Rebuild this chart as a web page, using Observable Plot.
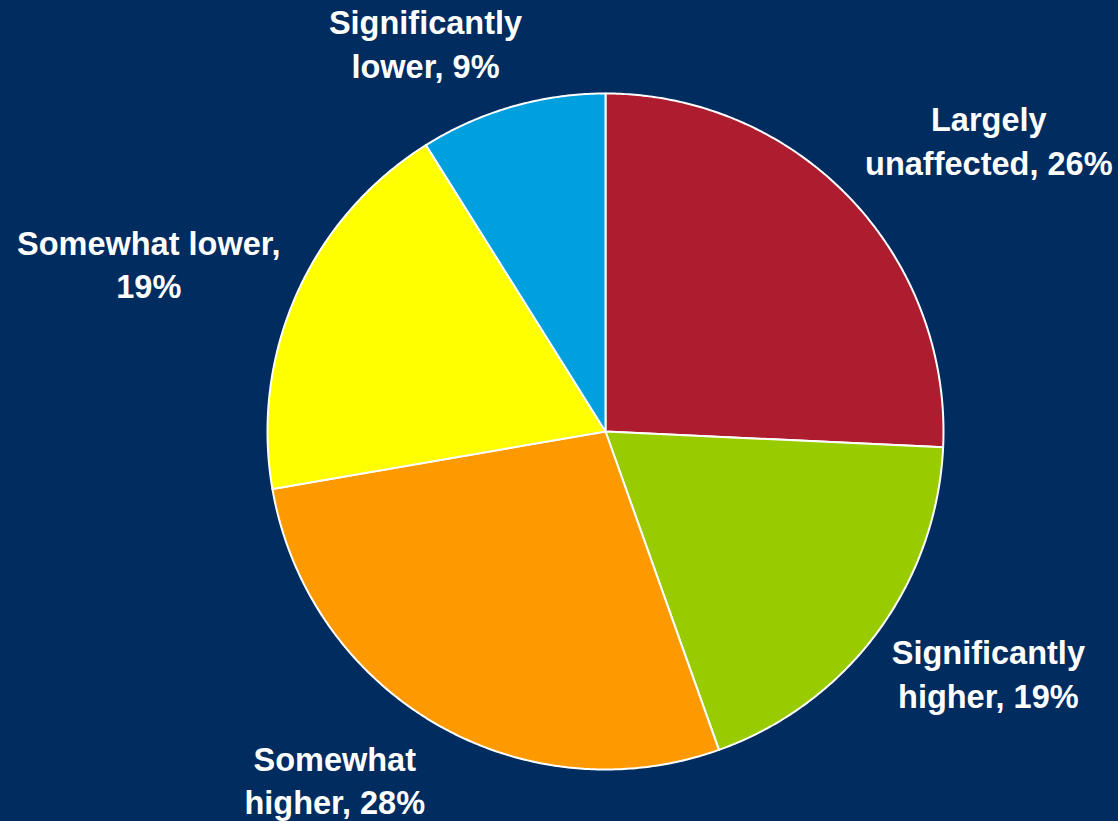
<!DOCTYPE html>
<html>
<head>
<meta charset="utf-8">
<script src="https://cdn.jsdelivr.net/npm/d3@7"></script>
<script src="https://cdn.jsdelivr.net/npm/@observablehq/plot@0.6"></script>
<style>
  html, body { margin: 0; padding: 0; background: #002C5F; }
  #chart { width: 1118px; height: 821px; overflow: hidden; }
</style>
</head>
<body>
<div id="chart"></div>
<script>
// ---- data ----
const categories = ["Largely unaffected", "Significantly higher", "Somewhat higher", "Somewhat lower", "Significantly lower"];
const labelText = ["Largely\nunaffected, 26%", "Significantly\nhigher, 19%", "Somewhat\nhigher, 28%", "Somewhat lower,\n19%", "Significantly\nlower, 9%"];
const values = [26, 19, 28, 19, 9];
const colors = ["#AE1C2F", "#99CC00", "#FF9900", "#FFFF00", "#00A0DE"];

// ---- layout (label placement: angle in degrees clockwise from top, distance in radii) ----
const labelAngle = [53, 122.5, 217.7, 289.9, 335];
const labelDist = [1.42, 1.343, 1.31, 1.437, 1.26];

const W = 1118, H = 821, cx = 605, cy = 431, R = 338;

const pie = d3.pie().sort(null).value(d => d)(values);
const slices = [];
pie.forEach((p, i) => {
  const steps = Math.max(2, Math.ceil((p.endAngle - p.startAngle) / (Math.PI / 360)));
  slices.push({cat: categories[i], x: 0, y: 0});
  for (let k = 0; k <= steps; k++) {
    const a = p.startAngle + (p.endAngle - p.startAngle) * k / steps;
    slices.push({cat: categories[i], x: Math.sin(a), y: Math.cos(a)});
  }
  slices.push({cat: categories[i], x: 0, y: 0});
});

const labels = labelText.map((t, i) => {
  const a = labelAngle[i] * Math.PI / 180;
  return {text: t, x: labelDist[i] * Math.sin(a), y: labelDist[i] * Math.cos(a)};
});

const chart = Plot.plot({
  width: W,
  height: H,
  margin: 0,
  style: {background: "#002C5F", overflow: "visible"},
  x: {domain: [-cx / R, (W - cx) / R], axis: null},
  y: {domain: [-(H - cy) / R, cy / R], axis: null},
  color: {domain: categories, range: colors},
  marks: [
    Plot.line(slices, {x: "x", y: "y", z: "cat", fill: "cat", stroke: "white", strokeWidth: 2, strokeLinejoin: "round", curve: "linear"}),
    Plot.text(labels, {
      x: "x", y: "y", text: "text",
      dy: -3.5,
      fill: "white",
      fontSize: 32.5,
      fontWeight: "bold",
      fontFamily: "'Liberation Sans', Arial, sans-serif",
      textAnchor: "middle",
      lineAnchor: "middle",
      lineHeight: 1.34
    })
  ]
});
document.getElementById("chart").appendChild(chart);
</script>
</body>
</html>
